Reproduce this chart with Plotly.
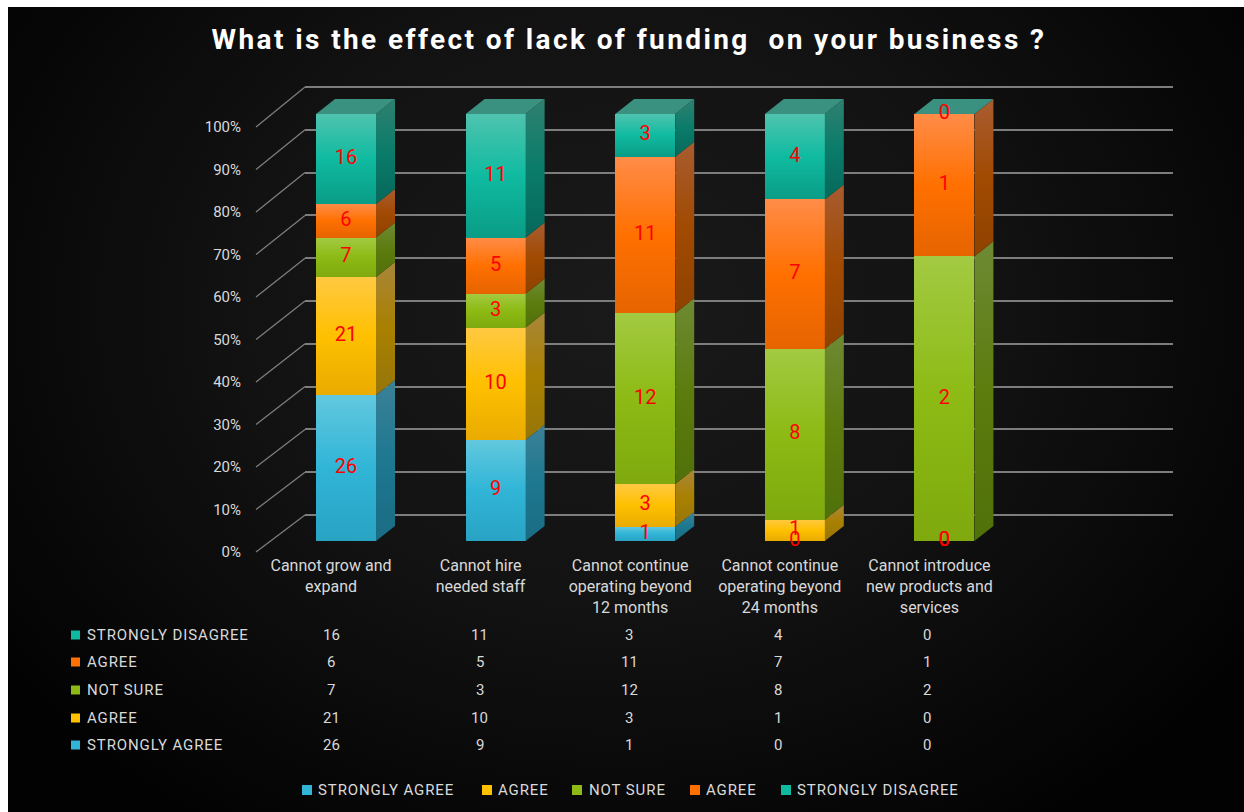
import plotly.graph_objects as go

# ---- chart data -------------------------------------------------------------
chart_title = "What is the effect of lack of funding\u00a0 on your business ?"
categories = [
    ["Cannot grow and", "expand"],
    ["Cannot hire", "needed staff"],
    ["Cannot continue", "operating beyond", "12 months"],
    ["Cannot continue", "operating beyond", "24 months"],
    ["Cannot introduce", "new products and", "services"],
]
strongly_agree = [26, 9, 1, 0, 0]
agree = [21, 10, 3, 1, 0]
not_sure = [7, 3, 12, 8, 2]
agree_upper = [6, 5, 11, 7, 1]
strongly_disagree = [16, 11, 3, 4, 0]
series_names = ["STRONGLY AGREE", "AGREE", "NOT SURE", "AGREE", "STRONGLY DISAGREE"]
series_values = [strongly_agree, agree, not_sure, agree_upper, strongly_disagree]
percent_ticks = list(range(0, 101, 10))

# ---- colours: light / mid / dark stops per series ---------------------------
front_stops = [
    ["#62c8de", "#30b5d7", "#29a3c4"],
    ["#ffc942", "#ffc000", "#e9ab00"],
    ["#a3ca42", "#8dba14", "#7fa90e"],
    ["#ff8c48", "#ff7000", "#e66400"],
    ["#4fc3af", "#0fbba0", "#0a9c86"],
]
side_stops = [
    ["#3c8197", "#1d7890", "#1a6c83"],
    ["#a8863a", "#a98000", "#96760a"],
    ["#6e8a34", "#5c7c0e", "#50700a"],
    ["#a85c30", "#a14a02", "#8f4200"],
    ["#2f8070", "#0b7c6a", "#06685a"],
]
top_colors = ["#3f93ab", "#b7923a", "#7b9a3b", "#b96a38", "#3a917f"]
grid_color = "#7d7d7d"
text_color = "#d9d9d9"
label_red = "#ff0000"

W, H = 1244, 812


def fx(px):
    return px / W


def fy(py):
    return 1 - py / H


def spaced(text, spacing):
    return f'<span style="letter-spacing:{spacing}px">{text}</span>'


# Column geometry of the oblique projection, expressed in axis units
unit_px = 149.6
pct_px = 4.27
first_center_px = 346
half_width = 30 / unit_px
depth_x = 19 / unit_px
depth_y = 15 / pct_px
bars_y_min, bars_y_max = -6, 100 + depth_y + 1
wall_pct_px = 4.28

fig = go.Figure()

# Back wall subplot carries the horizontal gridlines
fig.add_trace(go.Scatter(x=[0], y=[0], mode="none", xaxis="x", yaxis="y",
                         showlegend=False, hoverinfo="skip"))

# Front faces of the stacked columns, normalised to 100 %
for s, (name, values) in enumerate(zip(series_names, series_values)):
    fig.add_trace(go.Bar(
        x=list(range(len(categories))), y=values, name=name, meta=s,
        xaxis="x2", yaxis="y2", marker=dict(color=front_stops[s][1], line=dict(width=0)),
        showlegend=False, hoverinfo="skip",
    ))

# Side and top faces plus value labels follow the cumulative percentages
label_x, label_y, label_text = [], [], []
for c in range(len(categories)):
    total = sum(v[c] for v in series_values)
    base = 0.0
    last_series = 0
    for s, values in enumerate(series_values):
        share = 100 * values[c] / total
        top = base + share
        right = c + half_width
        if share > 0:
            fig.add_trace(go.Scatter(
                x=[right, right + depth_x, right + depth_x, right, right],
                y=[base, base + depth_y, top + depth_y, top, base],
                mode="lines", line=dict(width=0), fill="toself",
                fillcolor=side_stops[s][1], meta=s, xaxis="x2", yaxis="y2",
                showlegend=False, hoverinfo="skip",
            ))
            last_series = s
        label_x.append(c)
        label_y.append(base + share / 2)
        label_text.append(str(values[c]))
        base = top
    left = c - half_width
    right = c + half_width
    fig.add_trace(go.Scatter(
        x=[left, right, right + depth_x, left + depth_x, left],
        y=[100, 100, 100 + depth_y, 100 + depth_y, 100],
        mode="lines", line=dict(width=0), fill="toself",
        fillcolor=top_colors[4], xaxis="x2", yaxis="y2",
        showlegend=False, hoverinfo="skip",
    ))

fig.add_trace(go.Scatter(
    x=label_x, y=label_y, text=label_text, mode="text", textposition="middle center",
    textfont=dict(family="Roboto", size=20, color=label_red),
    xaxis="x2", yaxis="y2", showlegend=False, hoverinfo="skip", cliponaxis=False,
))

# Third subplot holds only the category and percentage tick labels
fig.add_trace(go.Scatter(x=[0], y=[0], mode="none", xaxis="x3", yaxis="y3",
                         showlegend=False, hoverinfo="skip"))

shapes = []
annotations = []

# Receding gridline stubs running from the tick labels to the back wall
for tick in percent_ticks:
    front_y = 552 - tick * 4.25
    back_y = 515 - tick * wall_pct_px
    shapes.append(dict(type="line", xref="paper", yref="paper", layer="below",
                       x0=fx(256), y0=fy(front_y), x1=fx(305), y1=fy(back_y),
                       line=dict(color=grid_color, width=1.3)))

# Data table under the plot, top row is the last series
table_rows_y = [745, 718, 690, 662, 635]
table_col_x = [331, 480, 629, 778, 927]
for s, name in enumerate(series_names):
    row_y = table_rows_y[s]
    shapes.append(dict(type="rect", xref="paper", yref="paper", layer="above",
                       x0=fx(71), x1=fx(80), y0=fy(row_y - 4.5), y1=fy(row_y + 4.5),
                       fillcolor=front_stops[s][1], line=dict(width=0)))
    annotations.append(dict(text=spaced(name, 0.9), x=fx(85), y=fy(row_y), xref="paper", yref="paper",
                            xanchor="left", yanchor="middle", showarrow=False,
                            font=dict(family="Roboto", size=15, color=text_color)))
    for c, col_x in enumerate(table_col_x):
        annotations.append(dict(text=str(series_values[s][c]), x=fx(col_x), y=fy(row_y),
                                xref="paper", yref="paper", xanchor="center", yanchor="middle",
                                showarrow=False,
                                font=dict(family="Roboto", size=15, color=text_color)))

# Legend row along the bottom edge
legend_swatch_x = [302, 482, 572, 690, 781]
legend_text_x = [316, 496, 587, 704, 795]
legend_y = 790
for s, name in enumerate(series_names):
    shapes.append(dict(type="rect", xref="paper", yref="paper", layer="above",
                       x0=fx(legend_swatch_x[s]), x1=fx(legend_swatch_x[s] + 10),
                       y0=fy(legend_y - 5), y1=fy(legend_y + 5),
                       fillcolor=front_stops[s][1], line=dict(width=0)))
    annotations.append(dict(text=spaced(name, 0.9), x=fx(legend_text_x[s]), y=fy(legend_y),
                            xref="paper", yref="paper", xanchor="left", yanchor="middle",
                            showarrow=False,
                            font=dict(family="Roboto", size=15, color=text_color)))

fig.update_layout(
    width=W, height=H, autosize=False,
    margin=dict(l=0, r=0, t=0, b=0, pad=0, autoexpand=False),
    paper_bgcolor="rgba(0,0,0,0)", plot_bgcolor="rgba(0,0,0,0)",
    barmode="stack", barnorm="percent", bargap=1 - 2 * half_width,
    title=dict(text=spaced(chart_title, 2.4), x=fx(629), xanchor="center", y=fy(39), yanchor="middle",
               font=dict(family="Roboto", size=28, color="#ffffff", weight="bold")),
    shapes=shapes, annotations=annotations, showlegend=False,
    xaxis=dict(domain=[fx(305), fx(1173)], range=[0, 1], showticklabels=False, showgrid=False,
               zeroline=False, showline=False, ticks="", anchor="y"),
    # The wall range runs slightly past 0-100 so both end gridlines are kept
    yaxis=dict(domain=[fy(515 + wall_pct_px), fy(87 - wall_pct_px)], range=[-1, 101],
               tickvals=percent_ticks, showticklabels=False,
               showgrid=True, gridcolor=grid_color, gridwidth=1.5, zeroline=False,
               showline=False, ticks="", anchor="x"),
    xaxis2=dict(domain=[fx(first_center_px - 0.5 * unit_px), fx(first_center_px + 4.5 * unit_px)],
                range=[-0.5, 4.5], showticklabels=False, showgrid=False, zeroline=False,
                showline=False, ticks="", anchor="y2"),
    yaxis2=dict(domain=[fy(541 - bars_y_min * pct_px), fy(541 - bars_y_max * pct_px)],
                range=[bars_y_min, bars_y_max], showticklabels=False, showgrid=False,
                zeroline=False, showline=False, ticks="", anchor="x2"),
    xaxis3=dict(domain=[fx(first_center_px - 15 - 0.5 * unit_px), fx(first_center_px - 15 + 4.5 * unit_px)],
                range=[-0.5, 4.5], tickmode="array", tickvals=list(range(len(categories))),
                ticktext=["<br>".join(lines) for lines in categories],
                ticks="", showgrid=False, zeroline=False, showline=False,
                tickfont=dict(family="Roboto", size=16, color=text_color),
                anchor="free", position=fy(554), side="bottom", ticklabelstandoff=0),
    yaxis3=dict(domain=[fy(552), fy(127)], range=[0, 100], tickmode="array", tickvals=percent_ticks,
                ticktext=[f"{t}%" for t in percent_ticks], ticks="", showgrid=False,
                zeroline=False, showline=False,
                tickfont=dict(family="Roboto", size=15, color=text_color),
                anchor="free", position=fx(241)),
)

# Vertical face gradients and the vignette backdrop are applied through SVG/CSS
post_script = """
var gd = document.getElementById('{plot_id}');
var FRONT = %s, SIDE = %s;
var svg = gd.querySelector('.main-svg');
var ns = 'http://www.w3.org/2000/svg';
var defs = document.createElementNS(ns, 'defs');
function addGrad(id, stops) {
  var g = document.createElementNS(ns, 'linearGradient');
  g.setAttribute('id', id);
  g.setAttribute('x1', '0'); g.setAttribute('y1', '0');
  g.setAttribute('x2', '0'); g.setAttribute('y2', '1');
  stops.forEach(function (c, i) {
    var st = document.createElementNS(ns, 'stop');
    st.setAttribute('offset', String(i / (stops.length - 1)));
    st.setAttribute('stop-color', c);
    g.appendChild(st);
  });
  defs.appendChild(g);
}
FRONT.forEach(function (s, i) { addGrad('front' + i, s); });
SIDE.forEach(function (s, i) { addGrad('side' + i, s); });
svg.insertBefore(defs, svg.firstChild);
gd.querySelectorAll('.barlayer .trace').forEach(function (t) {
  var m = t.__data__[0].trace.meta;
  t.querySelectorAll('path').forEach(function (p) { p.style.fill = 'url(#front' + m + ')'; });
});
gd.querySelectorAll('.scatterlayer .trace').forEach(function (t) {
  var m = t.__data__[0].trace.meta;
  if (m === undefined || m === null) return;
  t.querySelectorAll('path.js-fill').forEach(function (p) { p.style.fill = 'url(#side' + m + ')'; });
});
document.body.style.margin = '0';
document.body.style.background = '#ffffff';
gd.style.background = 'radial-gradient(ellipse 760px 620px at 612px 300px, #1a1a1a 0%%, #121212 50%%, #020202 100%%) 8px 7px / 1236px 805px no-repeat';
""" % (front_stops, side_stops)

fig.write_html("out.html", post_script=post_script)
